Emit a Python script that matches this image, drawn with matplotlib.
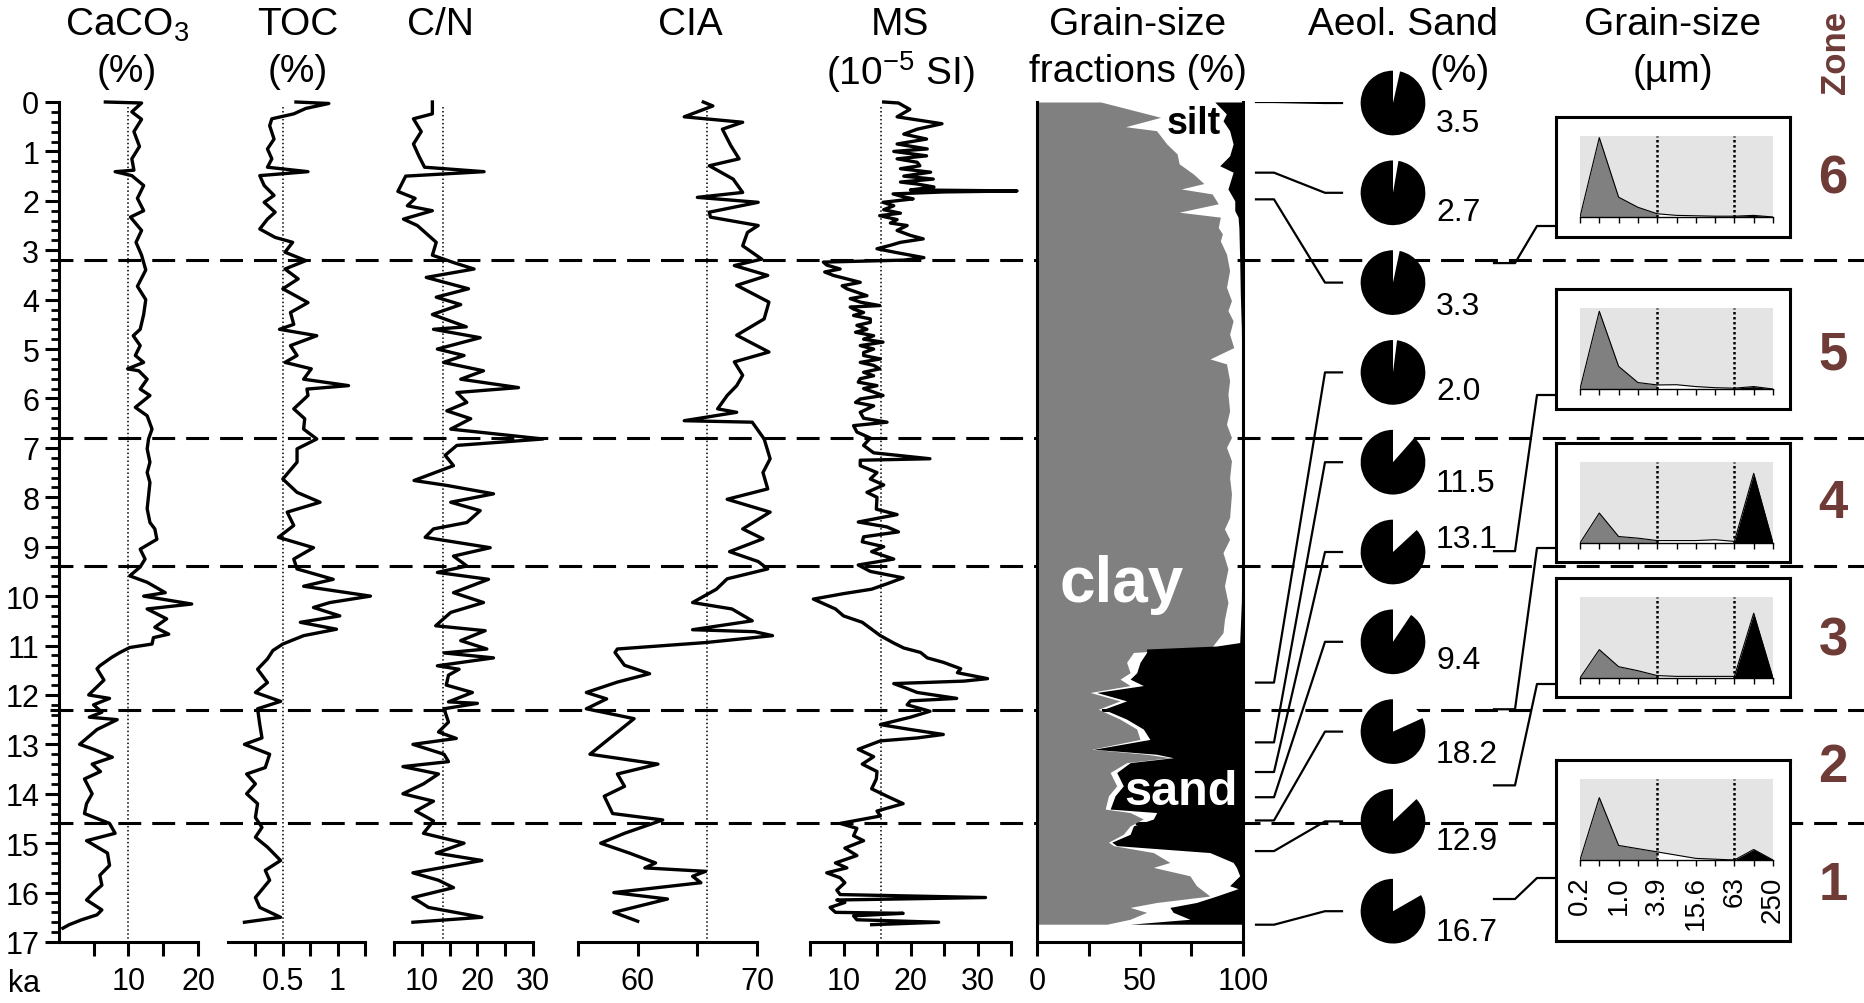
import matplotlib
matplotlib.use("Agg")
import matplotlib.pyplot as plt
from matplotlib import font_manager as fm
import numpy as np


def pick_font(*names):
    for name in names:
        try:
            fm.findfont(fm.FontProperties(family=name), fallback_to_default=False)
            return name
        except ValueError:
            pass
    return "DejaVu Sans"


NARROW = pick_font("Liberation Sans Narrow", "Liberation Sans")
BOLD = pick_font("Liberation Sans", "DejaVu Sans")
plt.rcParams["font.family"] = [NARROW, "DejaVu Sans"]
plt.rcParams["mathtext.fontset"] = "custom"
plt.rcParams["mathtext.rm"] = NARROW
plt.rcParams["mathtext.it"] = NARROW
plt.rcParams["mathtext.bf"] = NARROW

# ---------------- data (age in ka, value) ----------------
caco3 = [(0.0, 6.7), (0.02, 11.9), (0.2, 10.5), (0.35, 11.9), (0.6, 10.8), (0.9, 11.6), (1.15, 10.5),
         (1.38, 10.8), (1.41, 8.1), (1.49, 10.5), (1.69, 12.2), (1.95, 11.3), (2.2, 12.2), (2.33, 10.3),
         (2.6, 11.9), (2.84, 11.1), (3.1, 11.9), (3.4, 12.5), (3.73, 11.3), (4.0, 12.5), (4.3, 12.2),
         (4.6, 11.7), (4.73, 10.7), (4.93, 11.7), (5.13, 11.0), (5.27, 12.2), (5.4, 9.9), (5.44, 11.5),
         (5.61, 12.7), (5.81, 11.7), (5.94, 13.1), (6.18, 11.0), (6.35, 12.7), (6.62, 13.4), (6.82, 12.9),
         (7.02, 12.7), (7.29, 13.1), (7.5, 12.7), (7.7, 13.1), (7.97, 12.9), (8.23, 12.7), (8.51, 13.1),
         (8.64, 13.8), (8.85, 14.1), (9.05, 11.7), (9.25, 12.4), (9.41, 11.7), (9.59, 10.2), (9.72, 12.7),
         (9.93, 15.3), (10.0, 12.2), (10.16, 19.1), (10.26, 12.7), (10.46, 15.5), (10.63, 13.8),
         (10.77, 15.8), (10.84, 13.6), (10.97, 13.4), (11.04, 10.2), (11.14, 8.8), (11.24, 7.6),
         (11.41, 5.9), (11.47, 5.5), (11.7, 6.5), (12.0, 4.3), (12.07, 7.3), (12.2, 5.0), (12.35, 6.2),
         (12.45, 4.4), (12.5, 8.4), (12.7, 5.5), (13.0, 3.0), (13.1, 5.0), (13.26, 7.7), (13.4, 4.8),
         (13.55, 6.0), (13.7, 3.7), (14.0, 4.8), (14.2, 4.0), (14.4, 3.7), (14.6, 7.3), (14.8, 8.1),
         (14.95, 4.0), (15.2, 7.0), (15.45, 7.3), (15.65, 5.9), (15.85, 6.2), (16.0, 5.0), (16.15, 4.0),
         (16.35, 6.2), (16.45, 5.5), (16.55, 3.3), (16.65, 1.5), (16.72, 0.6)]

toc = [(0.0, 0.62), (0.03, 0.92), (0.13, 0.71), (0.24, 0.60), (0.34, 0.40), (0.48, 0.38), (0.75, 0.42),
       (0.95, 0.36), (1.15, 0.40), (1.32, 0.36), (1.41, 0.73), (1.49, 0.29), (1.69, 0.33), (1.89, 0.42),
       (2.03, 0.33), (2.23, 0.43), (2.37, 0.36), (2.57, 0.29), (2.74, 0.43), (2.84, 0.59), (3.04, 0.52),
       (3.21, 0.71), (3.38, 0.52), (3.58, 0.64), (3.78, 0.50), (4.06, 0.73), (4.26, 0.57), (4.5, 0.60),
       (4.6, 0.47), (4.73, 0.81), (4.93, 0.57), (5.13, 0.63), (5.27, 0.52), (5.40, 0.76), (5.61, 0.69),
       (5.74, 1.10), (5.81, 0.72), (5.94, 0.73), (6.21, 0.60), (6.41, 0.70), (6.62, 0.69), (6.82, 0.81),
       (7.02, 0.63), (7.29, 0.63), (7.63, 0.50), (7.90, 0.63), (8.1, 0.84), (8.3, 0.54), (8.57, 0.60),
       (8.81, 0.46), (9.02, 0.78), (9.25, 0.60), (9.45, 0.63), (9.66, 0.96), (9.80, 0.69), (10.0, 1.30),
       (10.13, 0.93), (10.23, 0.78), (10.4, 1.02), (10.53, 0.66), (10.67, 0.99), (10.8, 0.69),
       (10.97, 0.50), (11.1, 0.41), (11.27, 0.36), (11.48, 0.27), (11.75, 0.36), (11.95, 0.25),
       (12.13, 0.48), (12.28, 0.27), (12.6, 0.29), (12.87, 0.31), (13.0, 0.15), (13.2, 0.38),
       (13.47, 0.34), (13.6, 0.17), (13.8, 0.25), (14.0, 0.17), (14.2, 0.27), (14.48, 0.25),
       (14.68, 0.31), (14.88, 0.25), (15.08, 0.36), (15.35, 0.48), (15.55, 0.34), (15.75, 0.38),
       (16.1, 0.25), (16.3, 0.29), (16.5, 0.48), (16.6, 0.15)]

cn_ratio = [(0.0, 11.9), (0.24, 11.9), (0.34, 8.5), (0.6, 9.9), (0.85, 8.5), (1.1, 9.5), (1.32, 10.5),
            (1.41, 21.2), (1.5, 7.1), (1.81, 5.7), (1.95, 8.8), (2.1, 7.4), (2.2, 11.9), (2.37, 6.7),
            (2.5, 9.2), (2.84, 12.6), (3.1, 11.9), (3.26, 16.0), (3.38, 19.4), (3.55, 10.8), (3.78, 18.4),
            (3.95, 12.6), (4.1, 17.0), (4.3, 11.9), (4.55, 18.0), (4.6, 12.1), (4.77, 20.5), (5.0, 12.8),
            (5.13, 17.6), (5.27, 13.9), (5.44, 21.1), (5.61, 17.0), (5.78, 27.4), (5.88, 16.3),
            (6.08, 18.1), (6.25, 14.5), (6.41, 18.8), (6.62, 15.2), (6.82, 31.8), (6.95, 16.3),
            (7.15, 14.2), (7.36, 15.7), (7.66, 8.6), (7.76, 14.5), (7.93, 22.9), (8.1, 15.2), (8.27, 20.5),
            (8.51, 18.1), (8.64, 12.1), (8.81, 10.6), (9.02, 22.3), (9.19, 15.7), (9.39, 18.1),
            (9.52, 12.8), (9.66, 22.0), (9.93, 15.7), (10.13, 21.1), (10.33, 15.2), (10.6, 12.5),
            (10.7, 21.4), (10.9, 17.0), (11.07, 21.7), (11.15, 14.0), (11.25, 22.9), (11.41, 12.8),
            (11.48, 16.7), (11.6, 14.8), (11.8, 14.4), (11.95, 19.1), (12.14, 14.8), (12.17, 20.0),
            (12.28, 14.0), (12.55, 14.8), (12.75, 13.0), (12.88, 16.2), (13.0, 8.4), (13.2, 14.0),
            (13.35, 14.8), (13.45, 6.6), (13.6, 13.0), (13.8, 10.3), (14.0, 6.6), (14.15, 12.1),
            (14.35, 8.9), (14.55, 12.1), (14.8, 10.3), (15.0, 17.6), (15.2, 12.6), (15.35, 20.8),
            (15.6, 8.4), (15.75, 13.0), (15.9, 15.7), (16.1, 8.4), (16.3, 11.2), (16.5, 20.8), (16.6, 8.4)]

cia = [(0.0, 65.5), (0.08, 66.3), (0.3, 63.9), (0.41, 68.8), (0.55, 67.1), (0.88, 67.8), (1.15, 68.5),
       (1.29, 66.0), (1.56, 68.0), (1.83, 68.8), (1.93, 65.0), (2.03, 70.1), (2.23, 66.0), (2.33, 66.1),
       (2.5, 70.1), (2.64, 69.2), (2.91, 68.8), (3.18, 70.4), (3.31, 68.1), (3.51, 70.9), (3.71, 68.3),
       (4.05, 71.0), (4.39, 70.6), (4.72, 68.3), (5.06, 71.0), (5.26, 68.1), (5.53, 68.8), (5.74, 68.3),
       (5.94, 67.5), (6.21, 66.7), (6.28, 68.3), (6.45, 63.9), (6.48, 69.6), (6.82, 70.6), (7.22, 71.1),
       (7.5, 70.5), (7.83, 70.9), (8.04, 67.5), (8.3, 71.1), (8.64, 68.8), (8.84, 70.5), (9.1, 67.7),
       (9.3, 70.1), (9.45, 70.9), (9.65, 67.5), (9.86, 66.6), (10.13, 64.6), (10.26, 67.9), (10.5, 69.6),
       (10.68, 64.6), (10.72, 69.8), (10.8, 71.3), (10.94, 65.7), (11.07, 58.3), (11.14, 58.1),
       (11.4, 58.9), (11.57, 61.0), (11.74, 58.3), (11.95, 55.7), (12.08, 57.4), (12.28, 55.7),
       (12.48, 59.7), (13.2, 56.0), (13.4, 61.7), (13.6, 58.3), (13.85, 58.9), (14.05, 57.2),
       (14.4, 57.9), (14.53, 62.1), (14.8, 58.9), (15.0, 56.9), (15.2, 59.3), (15.4, 61.5), (15.5, 60.6),
       (15.57, 65.7), (15.67, 64.6), (15.8, 65.3), (16.0, 58.0), (16.13, 62.5), (16.4, 58.0),
       (16.58, 60.0)]

mag_sus = [(0.0, 16.0), (0.02, 18.2), (0.15, 19.9), (0.3, 18.0), (0.44, 24.7), (0.55, 21.0), (0.65, 19.0),
           (0.75, 22.4), (0.85, 18.0), (0.95, 22.5), (1.0, 17.5), (1.09, 22.4), (1.15, 18.0), (1.22, 21.0),
           (1.29, 21.4), (1.35, 18.5), (1.42, 23.0), (1.5, 19.0), (1.56, 23.4), (1.62, 18.5), (1.66, 21.0),
           (1.72, 23.5), (1.78, 20.0), (1.8, 35.9), (1.82, 25.0), (1.86, 17.4), (1.92, 19.0), (1.96, 20.4),
           (2.03, 15.9), (2.1, 17.5), (2.18, 16.0), (2.25, 18.5), (2.3, 15.4), (2.38, 18.0), (2.45, 17.0),
           (2.5, 19.5), (2.6, 18.0), (2.7, 20.0), (2.77, 21.9), (2.84, 18.5), (2.9, 17.0), (2.97, 15.0),
           (3.05, 18.0), (3.1, 20.0), (3.15, 22.0), (3.2, 19.0), (3.24, 7.0), (3.3, 7.5), (3.38, 9.5),
           (3.44, 7.2), (3.51, 8.5), (3.58, 10.5), (3.65, 12.5), (3.72, 9.8), (3.78, 10.5), (3.85, 12.0),
           (3.92, 13.5), (3.98, 11.0), (4.05, 12.5), (4.12, 15.4), (4.15, 11.0), (4.19, 11.5), (4.26, 13.0),
           (4.32, 11.5), (4.39, 14.0), (4.46, 14.0), (4.52, 12.0), (4.6, 13.5), (4.66, 11.8), (4.73, 14.5),
           (4.8, 13.0), (4.86, 15.9), (4.93, 12.5), (5.0, 14.5), (5.07, 13.0), (5.13, 13.0), (5.2, 15.5),
           (5.27, 12.5), (5.33, 14.5), (5.4, 15.4), (5.47, 13.0), (5.54, 14.5), (5.6, 12.5), (5.67, 12.2),
           (5.74, 15.0), (5.8, 13.0), (5.87, 14.5), (5.94, 15.9), (6.01, 12.5), (6.08, 11.8), (6.15, 14.5),
           (6.28, 12.5), (6.4, 13.0), (6.48, 16.5), (6.55, 11.5), (6.68, 12.0), (6.8, 14.0), (6.95, 13.0),
           (7.1, 14.5), (7.22, 22.9), (7.25, 12.5), (7.36, 12.5), (7.5, 15.0), (7.63, 14.0), (7.75, 16.0),
           (7.9, 13.5), (8.0, 15.0), (8.24, 14.9), (8.35, 18.0), (8.5, 12.2), (8.6, 16.5), (8.7, 18.2),
           (8.8, 13.0), (8.9, 12.8), (9.0, 16.0), (9.1, 14.2), (9.25, 17.5), (9.37, 12.2), (9.5, 14.0),
           (9.63, 18.9), (9.75, 16.5), (9.86, 14.2), (9.95, 10.0), (10.06, 5.5), (10.15, 7.0), (10.26, 8.8),
           (10.4, 10.0), (10.53, 12.8), (10.65, 14.0), (10.8, 15.5), (10.95, 17.5), (11.05, 19.0),
           (11.14, 21.5), (11.25, 22.5), (11.34, 24.9), (11.47, 27.5), (11.55, 27.0), (11.67, 31.5),
           (11.72, 28.0), (11.77, 17.5), (11.87, 19.5), (11.95, 21.0), (12.07, 26.9), (12.12, 20.0),
           (12.2, 19.5), (12.33, 22.9), (12.45, 20.0), (12.6, 15.5), (12.7, 20.0), (12.8, 24.9),
           (12.87, 21.0), (12.93, 15.5), (13.1, 12.2), (13.25, 14.5), (13.4, 12.8), (13.55, 15.0),
           (13.7, 14.9), (13.9, 14.2), (14.05, 16.5), (14.2, 18.9), (14.35, 15.0), (14.45, 15.5),
           (14.6, 9.5), (14.7, 12.0), (14.85, 11.5), (14.95, 13.0), (15.1, 10.2), (15.25, 12.0),
           (15.4, 8.8), (15.5, 10.5), (15.6, 7.5), (15.7, 9.5), (15.8, 10.2), (15.95, 9.0), (16.04, 9.5),
           (16.1, 31.2), (16.15, 9.0), (16.2, 10.2), (16.3, 8.0), (16.4, 8.8), (16.42, 18.9), (16.47, 11.5),
           (16.55, 12.0), (16.6, 24.2), (16.65, 14.2)]

# grain-size fractions: clay (%) and sand (%) against age
clay_pct = [(0.0, 31), (0.31, 60), (0.5, 43), (0.58, 58), (0.85, 63), (1.05, 68), (1.25, 69), (1.46, 76),
            (1.65, 81), (1.76, 70), (1.86, 85), (2.06, 88), (2.23, 69), (2.33, 89), (2.54, 88), (2.67, 90),
            (2.81, 89), (3.08, 92), (3.41, 93.5), (3.75, 92), (4.02, 94.4), (4.22, 92.7), (4.43, 95.2),
            (4.7, 93.5), (4.97, 95.5), (5.2, 84), (5.3, 92), (5.64, 93.5), (5.91, 92.7), (6.25, 93.5),
            (6.52, 92), (6.79, 94.4), (6.99, 92), (7.26, 94.4), (7.6, 93.5), (7.93, 94.4), (8.41, 93.5),
            (8.64, 91), (8.85, 93.5), (9.12, 90.3), (9.45, 92.7), (9.79, 91), (10.13, 92.7), (10.47, 91),
            (10.74, 90.3), (11.04, 84.7), (11.14, 46.8), (11.34, 43.5), (11.55, 45.2), (11.68, 40.3),
            (11.81, 45.2), (11.95, 25.8), (12.12, 40.3), (12.29, 29.8), (12.49, 40.3), (12.69, 48.4),
            (12.9, 50), (13.1, 26.6), (13.2, 53.2), (13.27, 64.5), (13.37, 43.5), (13.57, 35.5),
            (13.84, 38.7), (14.04, 34.7), (14.31, 33.1), (14.38, 45.2), (14.51, 51.6), (14.65, 45.2),
            (14.82, 41.9), (14.98, 34.7), (15.05, 37.1), (15.19, 56.5), (15.39, 64.5), (15.49, 56.5),
            (15.66, 74.2), (15.86, 77.4), (16.07, 83.9), (16.2, 58.1), (16.3, 45.2), (16.4, 53.2),
            (16.54, 45.2), (16.64, 33.9)]
sand_pct = [(0.0, 13.7), (0.24, 8.1), (0.38, 9.7), (0.58, 6.5), (0.85, 4.8), (1.09, 6.5), (1.29, 11.3),
            (1.42, 4.8), (1.76, 7.3), (2.0, 4.0), (2.2, 4.0), (2.33, 2.4), (2.54, 2.0), (3.21, 1.6),
            (3.89, 1.3), (4.56, 0.8), (5.24, 0.6), (5.91, 0.3), (8.44, 0.3), (10.13, 0.8), (10.94, 1.6),
            (11.01, 12.9), (11.07, 46.8), (11.14, 46.8), (11.34, 50), (11.55, 51.6), (11.68, 54.8),
            (11.81, 48.4), (11.95, 71), (12.12, 56.5), (12.29, 67.7), (12.49, 56.5), (12.69, 48.4),
            (12.9, 45.2), (13.1, 72.6), (13.2, 42), (13.27, 33.9), (13.37, 54.8), (13.57, 61.3),
            (13.84, 58.1), (14.04, 62.1), (14.31, 64.5), (14.38, 41.9), (14.51, 43.5), (14.65, 53.2),
            (14.82, 54.8), (14.98, 63.7), (15.05, 61.3), (15.19, 16.1), (15.39, 4.8), (15.49, 3.2),
            (15.66, 1.6), (15.86, 6.5), (15.92, 2.4), (16.07, 12.9), (16.2, 22.6), (16.3, 35.5),
            (16.4, 33.9), (16.54, 25.8), (16.64, 54.8)]

# aeolian sand pies
pie_sample_ka = [0.0, 1.43, 1.97, 11.75, 12.96, 13.56, 14.07, 14.54, 15.16, 16.65]
pie_sand = [3.5, 2.7, 3.3, 2.0, 11.5, 13.1, 9.4, 18.2, 12.9, 16.7]

# grain-size distributions (relative frequency per phi class)
size_class_labels = ["0.2", "", "1.0", "", "3.9", "", "15.6", "", "63", "", "250"]
dist_zone6 = [0, 0.98, 0.245, 0.12, 0.04, 0.02, 0.015, 0.01, 0.01, 0.02, 0]
dist_zone5 = [0, 0.96, 0.28, 0.08, 0.05, 0.053, 0.03, 0.016, 0.01, 0.03, 0]
dist_zone4 = [0, 0.37, 0.08, 0.06, 0.03, 0.03, 0.03, 0.04, 0.02, 0.86, 0]
dist_zone3 = [0, 0.35, 0.14, 0.09, 0.03, 0.02, 0.02, 0.02, 0.02, 0.80, 0]
dist_zone1 = [0, 0.77, 0.18, 0.14, 0.10, 0.06, 0.02, 0.01, 0.0, 0.13, 0]
dist_sample_ka = [3.26, 9.09, 12.29, 13.83, 16.13]

zone_bounds = [3.2, 6.8, 9.4, 12.3, 14.6]
zone_names = ["6", "5", "4", "3", "2", "1"]
zone_label_ka = [1.55, 5.1, 8.12, 10.9, 13.45, 15.85]

# ---------------- layout (pixels) ----------------
W, H = 1864, 1004
Y0, Y17 = 103, 943
LW = 2.2
TITLE_FS, TICK_FS, PIE_FS, BOX_FS = 28, 22, 23, 20
ZONE_COLOR = "#6e3b37"

fig = plt.figure(figsize=(W / 100, H / 100), dpi=100)


def unzip(pairs):
    a = np.array(pairs, dtype=float)
    return a[:, 0], a[:, 1]


# overlay in pixel x / age y for zone lines and connectors
ax_o = fig.add_axes([0, 1 - Y17 / H, 1, (Y17 - Y0) / H], zorder=0)
ax_o.set_xlim(0, W)
ax_o.set_ylim(17, 0)
ax_o.axis("off")
ax_o.hlines(zone_bounds, 50, W, colors="black", lw=LW, linestyles=(0, (7.5, 3.6)))


def px_to_ka(y_px):
    return ax_o.transData.inverted().transform((0, H - y_px))[1]


def make_panel(x0, x1, xlim, ticks, labels, ref=None):
    ax = fig.add_axes([x0 / W, 1 - Y17 / H, (x1 - x0) / W, (Y17 - Y0) / H], zorder=1)
    ax.set_xlim(*xlim)
    ax.set_ylim(17, 0)
    ax.patch.set_visible(False)
    for side in ("top", "right", "left"):
        ax.spines[side].set_visible(False)
    ax.spines["bottom"].set_linewidth(LW)
    ax.set_xticks(ticks)
    ax.set_xticklabels(labels)
    ax.tick_params(axis="x", length=10, width=LW, pad=7, labelsize=TICK_FS)
    ax.set_yticks([])
    if ref is not None:
        ax.plot([ref, ref], [0.1, 17.0], color="black", lw=1.1, ls=(0, (1, 1.6)))
    return ax


def draw_curve(ax, pairs):
    ka, val = unzip(pairs)
    ax.plot(val, ka, color="black", lw=2.4, clip_on=False)


ax_ca = make_panel(58.7, 198, (0, 20), [5, 10, 15, 20], ["", "10", "", "20"], ref=10)
ax_ca.spines["left"].set_visible(True)
ax_ca.spines["left"].set_linewidth(LW)
ax_ca.set_yticks(np.arange(0, 18))
ax_ca.set_yticks(np.arange(0, 17.01, 0.2), minor=True)
ax_ca.tick_params(axis="y", which="major", length=10, width=LW, pad=4, labelsize=TICK_FS)
ax_ca.tick_params(axis="y", which="minor", length=5.5, width=2.0)
draw_curve(ax_ca, caco3)

ax_toc = make_panel(228, 365, (0, 1.25), [0.25, 0.5, 0.75, 1.0, 1.25], ["", "0.5", "", "1", ""], ref=0.5)
draw_curve(ax_toc, toc)

ax_cn = make_panel(394, 533, (5, 30), [5, 10, 15, 20, 25, 30], ["", "10", "", "20", "", "30"], ref=13.9)
draw_curve(ax_cn, cn_ratio)

ax_cia = make_panel(578, 757, (55, 70), [55, 60, 65, 70], ["", "60", "", "70"], ref=65.8)
draw_curve(ax_cia, cia)

ax_ms = make_panel(810, 1011, (5, 35), [5, 10, 15, 20, 25, 30, 35], ["", "10", "", "20", "", "30", ""], ref=15.6)
draw_curve(ax_ms, mag_sus)

ax_gs = make_panel(1037, 1243, (0, 100), [0, 25, 50, 75, 100], ["0", "", "50", "", "100"])
ax_gs.spines["left"].set_visible(True)
ax_gs.spines["right"].set_visible(True)
ax_gs.spines["left"].set_linewidth(LW)
ax_gs.spines["right"].set_linewidth(LW)
ka, val = unzip(clay_pct)
ax_gs.fill_betweenx(ka, 0, val, color="#808080", lw=0)
ka, val = unzip(sand_pct)
ax_gs.fill_betweenx(ka, 100 - val, 100, color="black", lw=0)
ax_gs.text(41, 9.75, "clay", color="white", fontsize=46, fontweight="bold", family=[BOLD],
           ha="center", va="center")
ax_gs.text(70, 13.95, "sand", color="white", fontsize=35, fontweight="bold", family=[BOLD],
           ha="center", va="center")
ax_gs.text(76, 0.42, "silt", color="black", fontsize=27, fontweight="bold", family=[BOLD],
           ha="center", va="center")

fig.text(24 / W, 1 - 984 / H, "ka", fontsize=TICK_FS, ha="center", va="center")

# pies with connectors
PIE_X, PIE_Y0, PIE_DY, PIE_R = 1393, 104, 89.8, 33
pie_label_dy = [20, 19, 23, 19, 21, -13, 18, 22, 20, 21]
for i, (ska, sand) in enumerate(zip(pie_sample_ka, pie_sand)):
    cy = PIE_Y0 + i * PIE_DY
    pax = fig.add_axes([(PIE_X - PIE_R) / W, 1 - (cy + PIE_R) / H, 2 * PIE_R / W, 2 * PIE_R / H], zorder=3)
    pax.pie([sand, 100 - sand], colors=["white", "black"], startangle=90, counterclock=False,
            wedgeprops={"linewidth": 0})
    pax.set_xlim(-1.02, 1.02)
    pax.set_ylim(-1.02, 1.02)
    kp = px_to_ka(cy)
    ax_o.plot([1256, 1274, 1325, 1342], [ska, ska, kp, kp], color="black", lw=1.6)
    fig.text(1436 / W, 1 - (cy + pie_label_dy[i]) / H, f"{sand:.1f}", fontsize=PIE_FS,
             ha="left", va="center", zorder=5)

# grain-size distribution boxes
box_top = [118, 290, 444, 579, 761]
box_h = [120, 120, 119, 119, 181]
box_link = [109, 106, 105, 106, 118]
dists = [dist_zone6, dist_zone5, dist_zone4, dist_zone3, dist_zone1]
phi = np.arange(11)
for k, (top, h, link, dist, ska) in enumerate(zip(box_top, box_h, box_link, dists, dist_sample_ka)):
    bax = fig.add_axes([1556 / W, 1 - (top + h) / H, 234 / W, h / H], zorder=3)
    bax.set_xticks([])
    bax.set_yticks([])
    for s in bax.spines.values():
        s.set_linewidth(LW)
    dax = fig.add_axes([1580 / W, 1 - (top + 100) / H, 193 / W, 81 / H], zorder=4)
    dax.set_facecolor("#e4e4e4")
    dax.set_xlim(0, 10)
    dax.set_ylim(0, 1.0)
    for side in ("top", "right", "left"):
        dax.spines[side].set_visible(False)
    dax.spines["bottom"].set_linewidth(1.0)
    dax.set_yticks([])
    dax.set_xticks(phi)
    dax.tick_params(axis="x", length=4, width=1.0, pad=7, labelsize=BOX_FS)
    if k == len(box_top) - 1:
        dax.set_xticklabels(size_class_labels, rotation=90)
    else:
        dax.set_xticklabels([])
    y = np.array(dist)
    dax.fill_between(phi[:5], y[:5], color="#808080", lw=0)
    dax.fill_between(phi[4:9], y[4:9], color="white", lw=0)
    dax.fill_between(phi[8:], y[8:], color="black", lw=0)
    dax.plot(phi, y, color="black", lw=0.8)
    dax.axvline(4, color="black", lw=1.8, ls=(0, (1, 1)))
    dax.axvline(8, color="black", lw=1.8, ls=(0, (1, 1)))
    kb = px_to_ka(top + link)
    ax_o.plot([1494, 1515, 1537, 1556], [ska, ska, kb, kb], color="black", lw=1.6)

# zone labels
for name, zka in zip(zone_names, zone_label_ka):
    ax_o.text(1833, zka, name, color=ZONE_COLOR, fontsize=38, fontweight="bold", family=[BOLD],
              ha="center", va="center")
fig.text(1835 / W, 1 - 52 / H, "Zone", color=ZONE_COLOR, fontsize=25, fontweight="bold", family=[BOLD],
         rotation=90, ha="center", va="center")

# column headers
headers = [("CaCO$_3$", 127, 25), ("(%)", 127, 72), ("TOC", 298, 25), ("(%)", 298, 72),
           ("C/N", 440, 25), ("CIA", 690, 25), ("MS", 900, 25), ("(10$^{-5}$ SI)", 900, 72),
           ("Grain-size", 1138, 25), ("fractions (%)", 1138, 72), ("Aeol. Sand", 1403, 25),
           ("(%)", 1460, 72), ("Grain-size", 1673, 25), ("(µm)", 1673, 72)]
for txt, x, y in headers:
    fig.text(x / W, 1 - y / H, txt, fontsize=TITLE_FS, ha="center", va="center")

fig.savefig("out.png", dpi=100)
plt.close(fig)
